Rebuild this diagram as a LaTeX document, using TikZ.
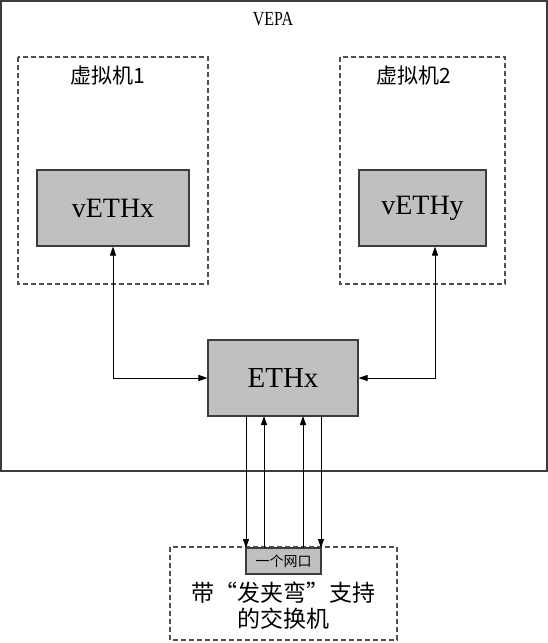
\documentclass[tikz,border=0pt]{standalone}
\usepackage{fontspec}
\setmainfont{Liberation Serif}
\newfontfamily\cjk{Noto Sans CJK SC}
\usetikzlibrary{arrows.meta}
\definecolor{boxgray}{RGB}{192,192,192}
\definecolor{edgegray}{RGB}{60,60,60}
\definecolor{dashgray}{RGB}{80,80,80}
\begin{document}
\begin{tikzpicture}[x=1pt,y=-1pt,
  graybox/.style={draw=edgegray,fill=boxgray,line width=1.1pt},
  vmbox/.style={draw=dashgray,dash pattern=on 5pt off 3pt,line width=1.1pt},
  conn/.style={line width=1pt},
  tip/.style={-{Triangle[length=9pt,width=6pt]}}]
\useasboundingbox (0,0) rectangle (548,643);
\fill[white] (0,0) rectangle (548,643);
% outer VEPA box
\draw[draw=edgegray,line width=1.1pt] (1,1) rectangle (547,471);
\node[font=\fontsize{20}{20}\selectfont,xscale=0.8] (vepa) at (273,19) {VEPA};
% VM boxes
\draw[vmbox] (18,57) rectangle (208,284);
\draw[vmbox] (340,57) rectangle (505,284);
\node[font=\fontsize{21}{21}\selectfont\cjk] (vm1) at (108,76) {虚拟机1};
\node[font=\fontsize{21}{21}\selectfont\cjk] (vm2) at (414,76) {虚拟机2};
% interfaces
\node[graybox,minimum width=152pt,minimum height=76pt,inner sep=0pt,
  font=\fontsize{28}{28}\selectfont] (vx) at (113,208) {vETHx};
\node[graybox,minimum width=127pt,minimum height=76pt,inner sep=0pt,
  font=\fontsize{28}{28}\selectfont] (vy) at (422.5,208) {vETHy};
\node[graybox,minimum width=150pt,minimum height=76pt,inner sep=0pt,
  font=\fontsize{29}{29}\selectfont] (eth) at (283,378) {ETHx};
% switch
\draw[vmbox] (170,547) rectangle (397,640);
\node[graybox,minimum width=75pt,minimum height=26pt,inner sep=0pt,
  font=\fontsize{14}{14}\selectfont\cjk] (port) at (283.5,561) {一个网口};
\node[font=\fontsize{23}{23}\selectfont\cjk,align=center] (sw) at (283.5,606)
  {带“发夹弯”支持\\[3pt]的交换机};
% connectors VM <-> ETHx
\coordinate (c1) at (113,378);
\coordinate (c2) at (435,378);
\draw[conn,{Triangle[length=9pt,width=6pt]}-{Triangle[length=9pt,width=6pt]}] (vx.south) -- (c1) -- (eth.west);
\draw[conn,{Triangle[length=9pt,width=6pt]}-{Triangle[length=9pt,width=6pt]}] (vy.south -| c2) -- (c2) -- (eth.east);
% ETHx <-> port
\draw[conn,tip] (246,416) -- (246,548);
\draw[conn,tip] (264,548) -- (264,416);
\draw[conn,tip] (303,548) -- (303,416);
\draw[conn,tip] (321,416) -- (321,548);
\end{tikzpicture}
\end{document}
